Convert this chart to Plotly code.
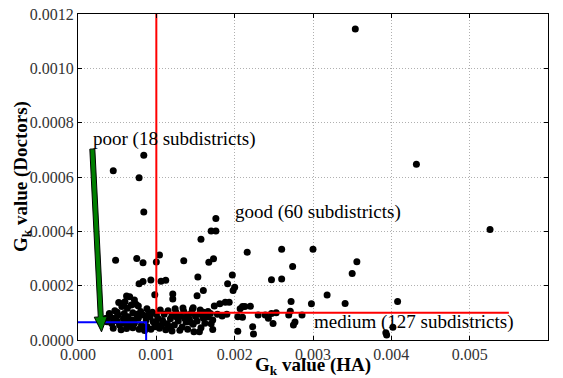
import numpy as np
import plotly.graph_objects as go

# G_k values per subdistrict: health-area (x) vs doctors (y)
gk_ha = [
    0.00354, 0.00432, 0.00526, 0.00084, 0.00045, 0.00078, 0.00084, 0.00176, 0.00170, 0.00176,
    0.00157, 0.00216, 0.00260, 0.00300, 0.00048, 0.00075, 0.00083, 0.00100, 0.00104, 0.00135,
    0.00167, 0.00173, 0.00274, 0.00356, 0.00350, 0.00247, 0.00260, 0.00078, 0.00083, 0.00093,
    0.00106, 0.00112, 0.00153, 0.00197, 0.00191, 0.00160, 0.00198, 0.00200, 0.00098, 0.00121,
    0.00152, 0.00121, 0.00318, 0.00341, 0.00408, 0.00298, 0.00272, 0.00210, 0.00220, 0.00271,
    0.00210, 0.00230, 0.00239, 0.00243, 0.00253, 0.00249, 0.00269, 0.00286, 0.00277, 0.00275,
    0.00223, 0.00224, 0.00402, 0.00393, 0.00394, 0.00147, 0.00174, 0.00181, 0.00188, 0.00193,
    0.00207, 0.00213, 0.00169, 0.00204, 0.00172, 0.00172, 0.00204, 0.00247, 0.00190,
    0.00066, 0.00072, 0.00060, 0.00056, 0.00063, 0.00068, 0.00077, 0.00047, 0.00051, 0.00040,
    0.00036, 0.00059, 0.00064, 0.00070, 0.00077, 0.00083, 0.00087, 0.00043, 0.00053, 0.00060,
    0.00066, 0.00072, 0.00081, 0.00092, 0.00096, 0.00102, 0.00098, 0.00104, 0.00109, 0.00045,
    0.00058, 0.00041, 0.00037, 0.00050,
    0.00105, 0.00110, 0.00115, 0.00120, 0.00125, 0.00130, 0.00135, 0.00140, 0.00145, 0.00150,
    0.00155, 0.00160, 0.00108, 0.00114, 0.00118, 0.00123, 0.00128, 0.00133, 0.00138, 0.00142,
    0.00147, 0.00152, 0.00157, 0.00162, 0.00112, 0.00120, 0.00130, 0.00140, 0.00148, 0.00126,
    0.00136, 0.00144, 0.00116, 0.00106, 0.00124, 0.00146, 0.00156, 0.00134, 0.00166, 0.00166,
    0.00178, 0.00184, 0.00160, 0.00170, 0.00155,
    0.00090, 0.00095, 0.00100, 0.00088, 0.00093, 0.00100, 0.00085, 0.00078, 0.00070, 0.00062,
    0.00055, 0.00050, 0.00075, 0.00080, 0.00070, 0.00088, 0.00045, 0.00058, 0.00065,
    0.00062, 0.00052, 0.00074,
]
gk_doctors = [
    0.001145, 0.000647, 0.000407, 0.000680, 0.000623, 0.000597, 0.000471, 0.000447, 0.000401, 0.000401,
    0.000371, 0.000323, 0.000334, 0.000334, 0.000294, 0.000300, 0.000284, 0.000287, 0.000313, 0.000292,
    0.000286, 0.000299, 0.000271, 0.000288, 0.000245, 0.000222, 0.000225, 0.000207, 0.000215, 0.000221,
    0.000216, 0.000220, 0.000232, 0.000239, 0.000207, 0.000182, 0.000182, 0.000194, 0.000167, 0.000169,
    0.000163, 0.000151, 0.000166, 0.000134, 0.000142, 0.000133, 0.000142, 0.000123, 0.000124, 0.000106,
    0.000084, 0.000092, 0.000092, 0.000080, 0.000100, 0.000061, 0.000092, 0.000092, 0.000066, 0.000055,
    0.000049, 0.000022, 0.000047, 0.000027, 0.000018, 0.000119, 0.000125, 0.000133, 0.000139, 0.000139,
    0.000115, 0.000123, 0.000098, 0.000086, 0.000074, 0.000039, 0.000032, 0.000098, 0.000095,
    0.000159, 0.000147, 0.000141, 0.000123, 0.000117, 0.000129, 0.000125, 0.000108, 0.000092, 0.000098,
    0.000080, 0.000098, 0.000086, 0.000074, 0.000080, 0.000092, 0.000074, 0.000061, 0.000055, 0.000061,
    0.000055, 0.000061, 0.000055, 0.000086, 0.000067, 0.000080, 0.000049, 0.000043, 0.000061, 0.000043,
    0.000135, 0.000086, 0.000067, 0.000102,
    0.000110, 0.000095, 0.000108, 0.000090, 0.000102, 0.000088, 0.000105, 0.000092, 0.000100, 0.000087,
    0.000095, 0.000102, 0.000072, 0.000060, 0.000078, 0.000055, 0.000070, 0.000048, 0.000066, 0.000078,
    0.000058, 0.000070, 0.000045, 0.000062, 0.000038, 0.000033, 0.000036, 0.000040, 0.000030, 0.000085,
    0.000080, 0.000065, 0.000050, 0.000052, 0.000115, 0.000112, 0.000110, 0.000118, 0.000085, 0.000105,
    0.000095, 0.000088, 0.000080, 0.000060, 0.000030,
    0.000095, 0.000102, 0.000095, 0.000050, 0.000040, 0.000062, 0.000035, 0.000040, 0.000045, 0.000042,
    0.000038, 0.000070, 0.000095, 0.000105, 0.000100, 0.000115, 0.000080, 0.000078, 0.000070,
    0.000162, 0.000138, 0.000132,
]

# Classification thresholds
good_x, good_y, good_x_end = 0.001, 0.0001, 0.0055
poor_x, poor_y = 0.00087, 0.000065

x_range = [0, 0.006]
y_range = [0, 0.0012]
W, H = 563, 378
M = dict(l=78, r=15, t=14, b=38)
pw, ph = W - M["l"] - M["r"], H - M["t"] - M["b"]

fig = go.Figure()

fig.add_trace(go.Scatter(
    x=gk_ha, y=gk_doctors, mode="markers",
    marker=dict(color="black", size=7, line=dict(width=0)),
    showlegend=False,
))

# "good" region boundary (red) and "poor" region boundary (blue)
fig.add_trace(go.Scatter(
    x=[good_x, good_x, good_x_end], y=[y_range[1], good_y, good_y],
    mode="lines", line=dict(color="red", width=2), showlegend=False,
))
fig.add_trace(go.Scatter(
    x=[x_range[0], poor_x, poor_x], y=[poor_y, poor_y, y_range[0]],
    mode="lines", line=dict(color="blue", width=2), showlegend=False,
))

# Fancy arrow for the "poor" annotation, built in pixel space then mapped to data
tail = (0.000183, 0.000703)
tip = (0.0003, 0.00003)


def to_px(x, y):
    return ((x - x_range[0]) / (x_range[1] - x_range[0]) * pw,
            (y - y_range[0]) / (y_range[1] - y_range[0]) * ph)


def to_data(px, py):
    return (x_range[0] + px / pw * (x_range[1] - x_range[0]),
            y_range[0] + py / ph * (y_range[1] - y_range[0]))


t = np.array(to_px(*tail))
h = np.array(to_px(*tip))
d = h - t
u = d / np.hypot(*d)
n = np.array([-u[1], u[0]])
shaft_w, head_w, head_l = 5.0, 13.0, 15.0
base = h - u * head_l
pts = [t + n * shaft_w / 2, base + n * shaft_w / 2, base + n * head_w / 2, h,
       base - n * head_w / 2, base - n * shaft_w / 2, t - n * shaft_w / 2]
path = "M " + " L ".join("{},{}".format(*to_data(*p)) for p in pts) + " Z"
fig.add_shape(type="path", path=path, xref="x", yref="y",
              fillcolor="green", line=dict(color="black", width=1))

serif = "Liberation Serif, DejaVu Serif, serif"
ann_font = dict(family=serif, size=19, color="black")
fig.add_annotation(x=0.000165, y=0.000739, text="poor (18 subdistricts)", showarrow=False,
                   xanchor="left", yanchor="middle", font=ann_font)
fig.add_annotation(x=0.00198, y=0.000471, text="good (60 subdistricts)", showarrow=False,
                   xanchor="left", yanchor="middle", font=ann_font)
fig.add_annotation(x=0.00299, y=0.0000674, text="medium (127 subdistricts)", showarrow=False,
                   xanchor="left", yanchor="middle", font=ann_font)

# Axis titles
title_font = dict(family=serif, size=19, color="black")
fig.add_annotation(x=0.5, y=(H - M["b"] - 366) / ph, xref="paper", yref="paper",
                   text="<b>G<sub>k</sub> value (HA)</b>", showarrow=False,
                   xanchor="center", yanchor="middle", font=title_font)
fig.add_annotation(x=(22 - M["l"]) / pw, y=0.5, xref="paper", yref="paper",
                   text="<b>G<sub>k</sub> value (Doctors)</b>", showarrow=False, textangle=-90,
                   xanchor="center", yanchor="middle", font=title_font)

axis_common = dict(
    showgrid=True, gridcolor="#b0b0b0", griddash="1px,2px", gridwidth=1,
    showline=True, linecolor="black", linewidth=1, mirror="ticks",
    ticks="inside", ticklen=4, tickcolor="black",
    tickfont=dict(family=serif, size=16, color="#333333"),
    zeroline=False, automargin=False,
)

fig.update_xaxes(range=x_range, dtick=0.001, tickformat=".3f", **axis_common)
fig.update_yaxes(range=y_range, dtick=0.0002, tickformat=".4f", **axis_common)

fig.update_layout(
    width=W, height=H, margin=M,
    paper_bgcolor="white", plot_bgcolor="white",
)

fig.write_html("out.html")
